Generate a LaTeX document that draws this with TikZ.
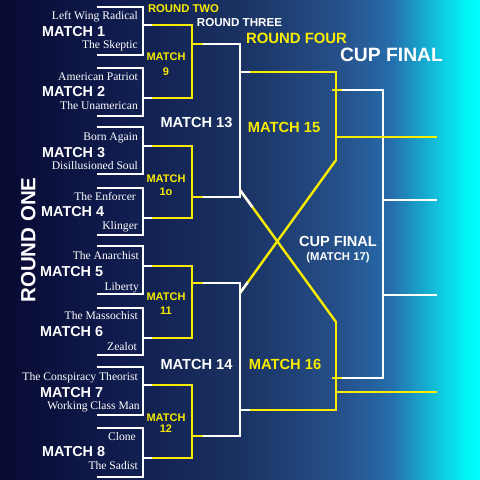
\documentclass[tikz,border=0pt]{standalone}
\usepackage{fontspec}
\usetikzlibrary{calc}
\setmainfont{Liberation Serif}
\setsansfont{Liberation Sans}
\definecolor{cupyellow}{RGB}{248,236,0}
\definecolor{bg0}{RGB}{8,10,50}
\definecolor{bg1}{RGB}{16,28,78}
\definecolor{bg2}{RGB}{26,50,98}
\definecolor{bg3}{RGB}{38,80,138}
\definecolor{bg4}{RGB}{38,108,170}
\definecolor{bg5}{RGB}{16,200,224}
\definecolor{bg6}{RGB}{0,244,244}
\definecolor{bg7}{RGB}{0,255,255}
\begin{document}
\begin{tikzpicture}[x=1pt,y=-1pt,
  wl/.style={draw=white,line width=2.4pt},
  yl/.style={draw=cupyellow,line width=2.4pt},
  nm/.style={text=white,font=\rmfamily\fontsize{11.6}{11.6}\selectfont,anchor=east,inner sep=0pt,text height=7.6pt,text depth=0pt},
  mt/.style={text=white,font=\sffamily\bfseries\fontsize{14.4}{14}\selectfont,anchor=west,inner sep=0pt,text height=10.3pt,text depth=0pt},
  ym/.style={text=cupyellow,font=\sffamily\bfseries\fontsize{11}{11}\selectfont,inner sep=0pt,text height=7.9pt,text depth=0pt},
  hd/.style={font=\sffamily\bfseries\fontsize{#1}{#1}\selectfont,inner sep=0pt,text height=0.716*#1pt,text depth=0pt},
]
\useasboundingbox (0,0) rectangle (480,480);
% background
\fill[left color=bg0,right color=bg1] (0,0) rectangle (120.5,480);
\fill[left color=bg1,right color=bg2] (120,0) rectangle (240.5,480);
\fill[left color=bg2,right color=bg3] (240,0) rectangle (340.5,480);
\fill[left color=bg3,right color=bg4] (340,0) rectangle (390.5,480);
\fill[left color=bg4,right color=bg5] (390,0) rectangle (440.5,480);
\fill[left color=bg5,right color=bg6] (440,0) rectangle (465.5,480);
\fill[left color=bg6,right color=bg7] (465,0) rectangle (480,480);

% ---------- round one brackets ----------
\foreach \t/\b/\o in {7/55/25,68/116/98,127/174/146,188/235/218,246/294/266,308/355/338,367/415/385,428/477/458}{
  \draw[wl] (97,\t) -- (143,\t) -- (143,\b) -- (97,\b);
  \draw[wl] (143,\o) -- (153,\o);
}
% ---------- round two brackets ----------
\foreach \t/\b/\o in {25/98/44,146/218/197,266/338/283,385/458/436}{
  \draw[yl] (152,\t) -- (192,\t) -- (192,\b) -- (152,\b);
  \draw[yl] (192,\o) -- (204,\o);
}
% ---------- round three ----------
\draw[wl] (203,44) -- (240,44) -- (240,197) -- (203,197);
\draw[wl] (203,283) -- (240,283) -- (240,436) -- (203,436);
\draw[wl] (240,72) -- (251,72);
\draw[wl] (240,410) -- (251,410);
% ---------- round four ----------
\draw[yl] (250,72) -- (336,72) -- (336,161);
\draw[yl] (250,410) -- (336,410) -- (336,321);
% the cross
\coordinate (xa1) at (240,190);
\coordinate (xa2) at (336,322);
\coordinate (xb1) at (240,293);
\coordinate (xb2) at (336,160);
\draw[yl] (xa1) -- (xa2);
\draw[yl] (xb1) -- (xb2);
\draw[wl] (xa1) -- ($(xa1)!0.13!(xa2)$);
\draw[wl] (xb1) -- ($(xb1)!0.08!(xb2)$);
% ---------- final ----------
\draw[wl] (336,90) -- (383,90) -- (383,378) -- (336,378);
\draw[wl] (383,200) -- (437,200);
\draw[wl] (383,295) -- (437,295);
\draw[yl] (332,90) -- (342,90);
\draw[yl] (332,378) -- (342,378);
\draw[yl] (336,137) -- (437,137);
\draw[yl] (336,392) -- (437,392);

% ---------- round one labels ----------
\node[nm] (a1) at (138,16) {Left Wing Radical};
\node[mt] (m1) at (42,31) {MATCH 1};
\node[nm] (b1) at (138,45) {The Skeptic};
\node[nm] (a2) at (138,77) {American Patriot};
\node[mt] (m2) at (42,91) {MATCH 2};
\node[nm] (b2) at (138,106) {The Unamerican};
\node[nm] (a3) at (138,137) {Born Again};
\node[mt] (m3) at (42,152) {MATCH 3};
\node[nm] (b3) at (138,166) {Disillusioned Soul};
\node[nm] (a4) at (136,197) {The Enforcer};
\node[mt] (m4) at (41,211) {MATCH 4};
\node[nm] (b4) at (138,226) {Klinger};
\node[nm] (a5) at (139,256) {The Anarchist};
\node[mt] (m5) at (40,271) {MATCH 5};
\node[nm] (b5) at (139,287) {Liberty};
\node[nm] (a6) at (138,316) {The Massochist};
\node[mt] (m6) at (40,331) {MATCH 6};
\node[nm] (b6) at (137,347) {Zealot};
\node[nm] (a7) at (138,377) {The Conspiracy Theorist};
\node[mt] (m7) at (40,392) {MATCH 7};
\node[nm] (b7) at (140,406) {Working Class Man};
\node[nm] (a8) at (136,437) {Clone};
\node[mt] (m8) at (42,451) {MATCH 8};
\node[nm] (b8) at (138,466) {The Sadist};

% ---------- round two labels ----------
\node[ym] (m9) at (166,57) {MATCH};
\node[ym] (m9n) at (166,72) {9};
\node[ym] (m10) at (166,179) {MATCH};
\node[ym] (m10n) at (166,192) {1o};
\node[ym] (m11) at (166,297) {MATCH};
\node[ym] (m11n) at (166,311) {11};
\node[ym] (m12) at (166,418) {MATCH};
\node[ym] (m12n) at (166,429) {12};

% ---------- other labels ----------
\node[hd=14.6,text=white] (m13) at (196.5,122) {MATCH 13};
\node[hd=14.6,text=white] (m14) at (196.5,364) {MATCH 14};
\node[hd=14.7,text=cupyellow] (m15) at (284,127) {MATCH 15};
\node[hd=14.7,text=cupyellow] (m16) at (285,364) {MATCH 16};
\node[hd=14.6,text=white] (cf) at (338,241) {CUP FINAL};
\node[hd=11.3,text=white] (m17) at (338,256) {(MATCH 17)};

% ---------- headers ----------
\node[hd=11.3,text=cupyellow] (r2) at (183.5,8) {ROUND TWO};
\node[hd=11.6,text=white] (r3) at (239.5,22) {ROUND THREE};
\node[hd=14.9,text=cupyellow] (r4) at (296.5,38) {ROUND FOUR};
\node[hd=19.3,text=white] (r5) at (391.5,55) {CUP FINAL};
\node[hd=20.5,text=white,rotate=90] (r1) at (28,240) {ROUND ONE};
\end{tikzpicture}
\end{document}
